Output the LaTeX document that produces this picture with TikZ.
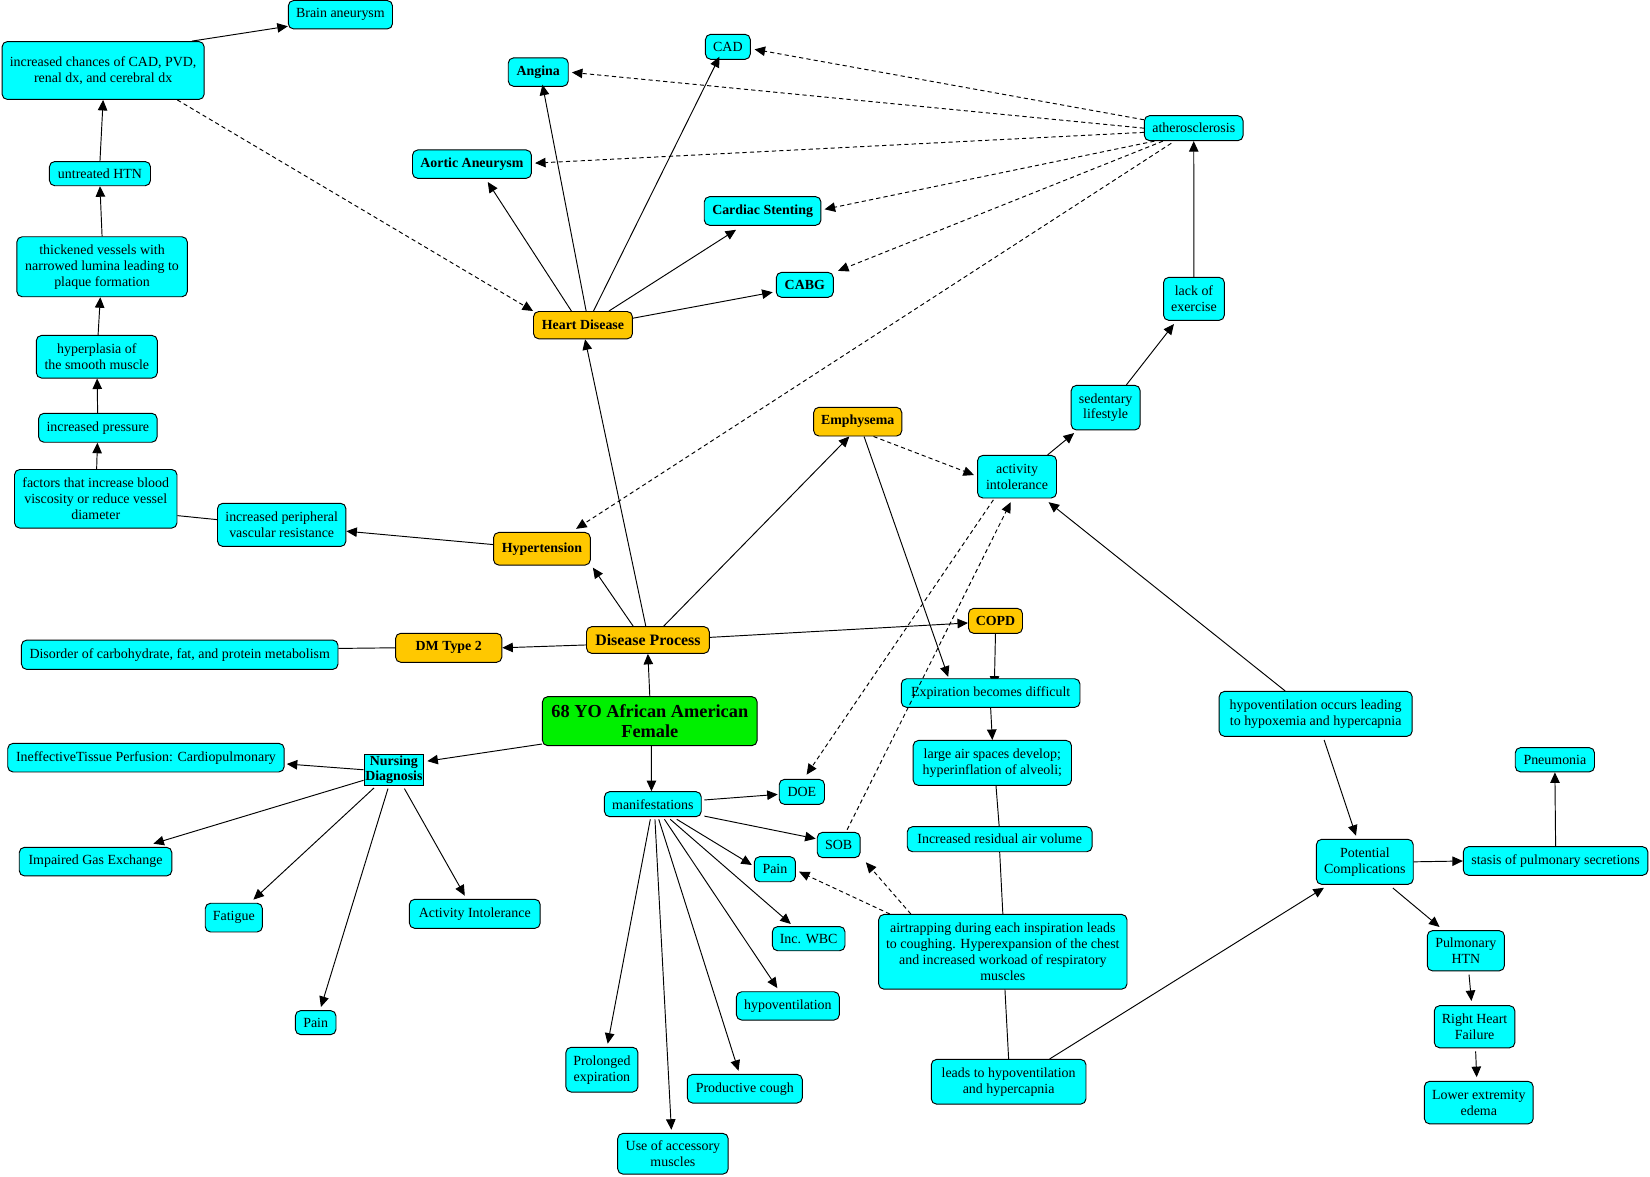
\documentclass[tikz,border=0pt]{standalone}
\usepackage{fontspec}
\setmainfont{Liberation Serif}
\usetikzlibrary{arrows.meta,calc,backgrounds}
\definecolor{cyanc}{RGB}{0,255,255}
\definecolor{orangec}{RGB}{255,200,0}
\definecolor{greenc}{RGB}{0,240,0}
\tikzset{
 bx/.style={draw=black, line width=0.9pt, rounded corners=5pt, align=center, inner sep=1.5pt, font=\fontsize{13.25}{15.2}\selectfont, text=black},
 cy/.style={bx, fill=cyanc},
 cyb/.style={cy, font=\fontsize{13.2}{15}\selectfont\bfseries},
 og/.style={bx, fill=orangec, font=\fontsize{13.2}{15}\selectfont\bfseries},
 sz/.style 2 args={minimum width=#1pt, minimum height=#2pt},
 arr/.style={-{Triangle[length=10pt,width=9pt]}, line width=0.9pt},
 darr/.style={arr, dash pattern=on 4pt off 3pt},
 ln/.style={line width=0.9pt}
}
\begin{document}
\begin{tikzpicture}[x=1pt,y=-1pt]
\useasboundingbox (0,0) rectangle (1568,1118.5);
% ---------- left chain
\node[cy,sz={99}{27}] (brain) at (323.5,14) {Brain aneurysm};
\node[cy,sz={192}{55}] (incr) at (98,67) {increased chances of CAD, PVD,\\renal dx, and cerebral dx};
\node[cy,sz={96}{23}] (untr) at (95,165) {untreated HTN};
\node[cy,sz={162}{57}] (thick) at (97,253.5) {thickened vessels with\\narrowed lumina leading to\\plaque formation};
\node[cy,sz={115}{40.5}] (hyper) at (92,339) {hyperplasia of\\the smooth muscle};
\node[cy,sz={112.5}{27.5}] (press) at (93,406.5) {increased pressure};
\node[cy,sz={154.4}{55.7}] (factors) at (91,474) {factors that increase blood\\viscosity or reduce vessel\\diameter};
\node[cy,sz={122}{41}] (periph) at (267.7,498.8) {increased peripheral\\vascular resistance};
\node[og,sz={92}{31}] (htn) at (515,521.5) {Hypertension};
\node[og,sz={101}{27.6}] (dm) at (426.4,615.6) {DM Type 2};
\node[cy,sz={300.8}{27.9}] (disorder) at (170.8,622.2) {Disorder of carbohydrate, fat, and protein metabolism};
\node[og,sz={116.7}{25.4},font=\fontsize{15.1}{17}\selectfont\bfseries] (dp) at (615.7,608.2) {Disease Process};
\node[bx,fill=greenc,sz={204}{46.6},font=\fontsize{17.4}{19.5}\selectfont\bfseries] (yo) at (617.5,685.3) {68 YO African American\\Female};
% ---------- nursing diagnosis
\node[cyb,sz={56.7}{29.5},rounded corners=0pt,inner sep=0.5pt,font=\fontsize{13.2}{14.9}\selectfont\bfseries] (nd) at (374.3,731.5) {Nursing\\Diagnosis};
\node[cy,sz={262.7}{27.2}] (ineff) at (138.7,720) {IneffectiveTissue Perfusion: Cardiopulmonary};
\node[cy,sz={145}{27.2}] (igx) at (90.8,818.8) {Impaired Gas Exchange};
\node[cy,sz={54.3}{27.3}] (fat) at (222.2,872) {Fatigue};
\node[cy,sz={124.3}{27.6}] (ai) at (451.2,868.4) {Activity Intolerance};
\node[cy,sz={38.6}{22.8}] (painL) at (300,971.8) {Pain};
% ---------- manifestations
\node[cy,sz={92}{23.8}] (manif) at (620.4,764.2) {manifestations};
\node[cy,sz={43}{23.8}] (doe) at (762,752.5) {DOE};
\node[cy,sz={40.8}{24}] (sob) at (797,803) {SOB};
\node[cy,sz={39}{23.8}] (painM) at (736.4,826) {Pain};
\node[cy,sz={69}{23}] (wbc) at (768.5,892) {Inc. WBC};
\node[cy,sz={97.8}{26.9}] (hypov) at (748.7,955.9) {hypoventilation};
\node[cy,sz={68.5}{42.5}] (prol) at (572,1016.5) {Prolonged\\expiration};
\node[cy,sz={109.3}{27.2}] (cough) at (707.8,1034.6) {Productive cough};
\node[cy,sz={105}{38.7}] (acc) at (639.5,1096.4) {Use of accessory\\muscles};
% ---------- heart disease
\node[og,sz={94}{26}] (hd) at (554,309) {Heart Disease};
\node[cyb,sz={57}{27}] (angina) at (511.5,68.5) {Angina};
\node[cy,sz={42.6}{23.8}] (cad) at (691.7,44.5) {CAD};
\node[cyb,sz={113}{27}] (aortic) at (448.5,156) {Aortic Aneurysm};
\node[cyb,sz={110.9}{27.2}] (stent) at (724.7,200.5) {Cardiac Stenting};
\node[cyb,sz={54.2}{23.7}] (cabg) at (764.8,270.7) {CABG};
\node[cy,sz={93.8}{23.8}] (ath) at (1134.4,121.8) {atherosclerosis};
\node[cy,sz={57.8}{40.9}] (lack) at (1134.6,284) {lack of\\exercise};
\node[cy,sz={65.5}{42.4}] (sed) at (1050.7,387.4) {sedentary\\lifestyle};
\node[og,sz={83.7}{27.3}] (emph) at (815.1,400.7) {Emphysema};
\node[cy,sz={75}{40.5}] (act) at (966.5,453) {activity\\intolerance};
% ---------- COPD chain
\node[og,sz={51.3}{23.8}] (copd) at (946,590) {COPD};
\node[cy,sz={169.8}{27.2}] (expir) at (941.4,658.6) {Expiration becomes difficult};
\node[cy,sz={150.5}{42.7}] (large) at (943,725) {large air spaces develop;\\hyperinflation of alveoli;};
\node[cy,sz={175.7}{23.8}] (resid) at (950,797.5) {Increased residual air volume};
\node[cy,sz={236}{71}] (airtrap) at (953,904.5) {airtrapping during each inspiration leads\\to coughing. Hyperexpansion of the chest\\and increased workoad of respiratory\\muscles};
\node[cy,sz={147}{42.5}] (leads) at (958.5,1028) {leads to hypoventilation\\and hypercapnia};
\node[cy,sz={183.4}{42.7}] (hypox) at (1250.3,678.4) {hypoventilation occurs leading\\to hypoxemia and hypercapnia};
\node[cy,sz={92}{42.8}] (pot) at (1297,819) {Potential\\Complications};
\node[cy,sz={175.4}{27.2}] (stasis) at (1478.3,818.2) {stasis of pulmonary secretions};
\node[cy,sz={75.3}{23.1}] (pneu) at (1477.6,722) {Pneumonia};
\node[cy,sz={73.3}{38.3}] (pulm) at (1393,903.5) {Pulmonary\\HTN};
\node[cy,sz={76.6}{40}] (rhf) at (1401.3,975.7) {Right Heart\\Failure};
\node[cy,sz={103.4}{40.5}] (lee) at (1405.3,1047.8) {Lower extremity\\edema};
% ================= connectors
% left chain
\draw[arr] ($(incr.north east)+(-12,0)$) -- ($(brain.south west)+(0,-3)$);
\draw[darr] ($(incr.south east)+(-26,0)$) -- (hd.north west);
\draw[arr] (untr.north) -- (incr.south);
\draw[arr] (thick.north) -- (untr.south);
\draw[arr] (hyper) -- (thick);
\draw[arr] (press) -- (hyper);
\draw[arr] (factors) -- (press);
\draw[ln] ($(factors.east)+(0,16)$) -- ($(periph.west)+(0,-5)$);
\draw[arr] ($(htn.west)+(0,-4)$) -- ($(periph.east)+(0,6)$);
% disease process
\draw[arr] ($(dp.north)+(-14,0)$) -- ($(htn.south east)+(2,2)$);
\draw[arr] ($(dp.north)+(-2,0)$) -- ($(hd.south)+(2,0)$);
\draw[arr] ($(dp.north)+(15,0)$) -- ($(emph.south)+(-8,0)$);
\draw[arr] ($(dp.east)+(0,-2.5)$) -- ($(copd.west)+(0,2)$);
\draw[arr] ($(dp.west)+(0,4.7)$) -- (dm.east);
\draw[ln] (dm.west) -- ($(disorder.east)+(0,-6)$);
\draw[arr] (yo.north) -- (dp.south);
\draw[arr] ($(yo.south)+(1.5,0)$) -- ($(manif.north)+(-1.3,0)$);
\draw[arr] ($(yo.south west)+(0,-2)$) -- ($(nd.north east)+(3,7)$);
% nursing diagnosis
\draw[arr] (nd.west) -- ($(ineff.east)+(2,6)$);
\draw[arr] ($(nd.west)+(0,10)$) -- ($(igx.north east)+(-18,-3)$);
\draw[arr] ($(nd.south west)+(10,2)$) -- ($(fat.north east)+(-9,-3)$);
\draw[arr] ($(nd.south)+(-5.6,2.7)$) -- ($(painL.north)+(5,-3)$);
\draw[arr] ($(nd.south)+(10,2.7)$) -- ($(ai.north)+(-9.5,-3)$);
% manifestations
\draw[arr] ($(manif.east)+(2.5,-4)$) -- ($(doe.west)+(-1,2.4)$);
\draw[arr] ($(manif.south east)+(2.5,-1)$) -- ($(sob.west)+(-1,-6)$);
\draw[arr] ($(manif.south)+(22.7,2)$) -- ($(painM.west)+(-2,-4)$);
\draw[arr] ($(manif.south)+(16.5,2)$) -- ($(wbc.north)+(-17,-2)$);
\draw[arr] ($(manif.south)+(11,2)$) -- ($(hypov.north)+(-10,-3)$);
\draw[arr] ($(manif.south)+(5.6,2)$) -- ($(cough.north)+(-6,-3)$);
\draw[arr] ($(manif.south)+(2,2)$) -- ($(acc.north)+(-1.5,-3)$);
\draw[arr] ($(manif.south)+(-2.4,2)$) -- ($(prol.north)+(5.5,-3)$);
% heart disease
\draw[arr] ($(hd.north)+(3,0)$) -- ($(angina.south)+(4,-2)$);
\draw[arr] ($(hd.north)+(10,0)$) -- ($(cad.south)+(-8,-3)$);
\draw[arr] ($(hd.north)+(-11,0)$) -- ($(aortic.south)+(15,3)$);
\draw[arr] ($(hd.north)+(24.7,0)$) -- ($(stent.south)+(-25.2,3.8)$);
\draw[arr] ($(hd.east)+(0,-6.6)$) -- ($(cabg.west)+(-3,7)$);
% atherosclerosis
\draw[darr] ($(ath.west)+(0,-8)$) -- ($(cad.east)+(3.6,2.4)$);
\draw[darr] (ath.west) -- ($(angina.east)+(3,0.3)$);
\draw[darr] ($(ath.west)+(0,4)$) -- ($(aortic.east)+(3,-1)$);
\draw[darr] ($(ath.south west)+(10,0)$) -- ($(stent.east)+(3,-1.6)$);
\draw[darr] ($(ath.south west)+(18,0)$) -- ($(cabg.north east)+(4,-1)$);
\draw[darr] ($(ath.south west)+(26,2)$) -- ($(htn.north east)+(-14,-3)$);
\draw[arr] (lack.north) -- (ath.south);
\draw[arr] ($(sed.north)+(19.7,0)$) -- ($(lack.south)+(-19,3)$);
\draw[arr] ($(act.north)+(29,0)$) -- ($(sed.south)+(-30,2.5)$);
\draw[darr] ($(emph.south)+(15,0)$) -- ($(act.west)+(-3,-1.6)$);
\draw[arr] ($(emph.south)+(6,0)$) -- ($(expir.north west)+(45,-1.4)$);
\draw[darr] ($(act.south)+(-22.5,1.3)$) -- ($(doe.north)+(4.5,-4)$);
\draw[darr] ($(sob.north)+(8,-2)$) -- ($(act.south)+(-6,3.5)$);
% COPD chain
\begin{scope}[on background layer]
\draw[arr] (copd.south) -- ($(expir.north)+(3.5,8)$);
\end{scope}
\draw[arr] (expir.south) -- (large.north);
\draw[ln] ($(large.south)+(3.5,0)$) -- ($(resid.north)+(-0.5,0)$);
\draw[ln] (resid.south) -- (airtrap.north);
\draw[darr] ($(airtrap.north west)+(11,0)$) -- ($(painM.east)+(3,2.4)$);
\draw[darr] ($(airtrap.north west)+(31,0)$) -- ($(sob.south east)+(5,4)$);
\draw[ln] ($(airtrap.south)+(2,0)$) -- (leads.north);
\draw[arr] ($(leads.north)+(39,0)$) -- ($(pot.south west)+(7.6,2.8)$);
\draw[arr] ($(hypox.north)+(-29,0)$) -- ($(act.south east)+(-8,3.5)$);
\draw[arr] ($(hypox.south)+(8,3)$) -- ($(pot.north)+(-8.4,-3)$);
\draw[arr] (pot.east) -- (stasis.west);
\draw[arr] (stasis.north) -- (pneu.south);
\draw[arr] ($(pot.south)+(26.6,3)$) -- ($(pulm.north)+(-25,-3)$);
\draw[arr] ($(pulm.south)+(3,3)$) -- ($(rhf.north)+(-3,-4)$);
\draw[arr] ($(rhf.south)+(1,3)$) -- ($(lee.north)+(-2,-3.5)$);
\end{tikzpicture}
\end{document}
